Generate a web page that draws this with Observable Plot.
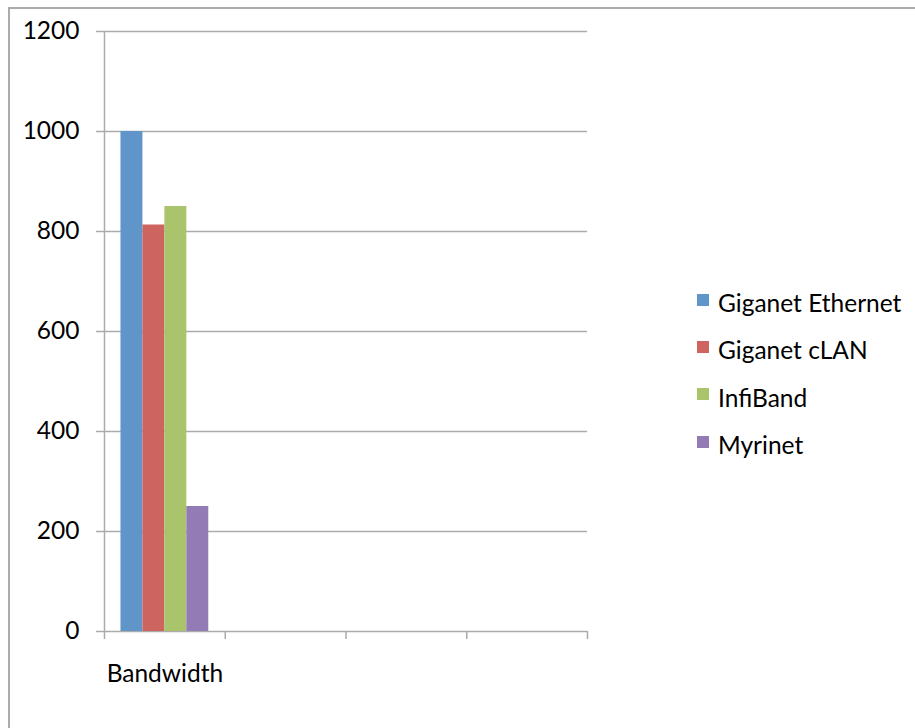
<!DOCTYPE html>
<html><head><meta charset="utf-8">
<script src="https://cdn.jsdelivr.net/npm/d3@7"></script>
<script src="https://cdn.jsdelivr.net/npm/@observablehq/plot@0.6"></script>
<style>
body{margin:0;background:#fff;}
#wrap{position:relative;width:915px;height:728px;overflow:hidden;font-family:Lato,"Open Sans",sans-serif;background:#fff;}
#border{position:absolute;left:8px;top:7px;width:940px;height:760px;border:2px solid #ababab;box-sizing:border-box;z-index:2;}
#chart{position:absolute;left:0;top:0;}
#legend{position:absolute;left:697px;top:279px;}
.item{display:flex;align-items:center;height:47.3px;font-size:24.5px;color:#000;}
.sw{width:12px;height:12px;margin-right:9px;position:relative;top:-3px;}
</style>
</head><body>
<div id="wrap"><div id="border"></div><div id="chart"></div><div id="legend"></div></div>
<script>
const categories = ["Bandwidth"];
const slotCount = 4; // category slots on the x axis
const series = ["Giganet Ethernet", "Giganet cLAN", "InfiBand", "Myrinet"];
const values = [1000, 813, 850, 250];
const colors = ["#5f95c9", "#cd645f", "#aac46b", "#937cb5"];
const yTicks = [0, 200, 400, 600, 800, 1000, 1200];

const gapWidth = 1.5; // Excel-style gap width in bar widths
const n = series.length;
const data = series.map((s, i) => ({
  series: s,
  value: values[i],
  x1: 0 + (gapWidth / 2 + i) / (n + gapWidth),
  x2: 0 + (gapWidth / 2 + i + 1) / (n + gapWidth)
}));

const grid = "#ababab";
const chart = Plot.plot({
  width: 915,
  height: 728,
  marginLeft: 104,
  marginRight: 328,
  marginTop: 31,
  marginBottom: 97,
  style: {fontFamily: "Lato, 'Open Sans', sans-serif", background: "transparent"},
  x: {domain: [0, slotCount], axis: null},
  y: {domain: [0, 1200], axis: null},
  color: {domain: series, range: colors},
  marks: [
    Plot.gridY({ticks: yTicks, stroke: grid, strokeOpacity: 1, strokeWidth: 1.5}),
    Plot.axisY({ticks: yTicks, label: null, tickSize: 8, tickPadding: 17, stroke: grid, strokeWidth: 1.5, fill: "#000", fontSize: 24.5, tickFormat: d => String(d)}),
    Plot.axisX({ticks: d3.range(0, slotCount + 1), label: null, tickSize: 8, tickFormat: () => "", stroke: grid, strokeWidth: 1.5}),
    Plot.ruleX([0], {y1: 0, y2: 1200, stroke: grid, strokeWidth: 1.5}),
    Plot.rectY(data, {x1: "x1", x2: "x2", y: "value", fill: "series"}),
    Plot.text(categories, {x: (d, i) => i + 0.5, y: 0, dy: 43, text: d => d, fontSize: 24.5, fill: "#000"})
  ]
});
document.getElementById("chart").appendChild(chart);

const legend = document.getElementById("legend");
series.forEach((s, i) => {
  const row = document.createElement("div");
  row.className = "item";
  const sw = document.createElement("span");
  sw.className = "sw";
  sw.style.background = colors[i];
  const t = document.createElement("span");
  t.textContent = s;
  row.appendChild(sw);
  row.appendChild(t);
  legend.appendChild(row);
});
</script>
</body></html>
